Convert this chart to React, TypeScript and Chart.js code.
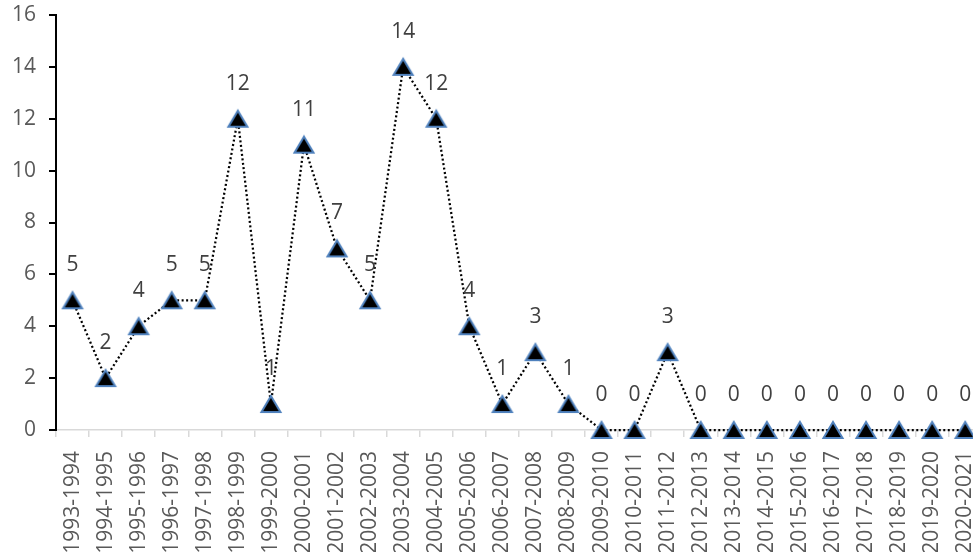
import React, { useEffect, useRef } from "react";
import { Chart, registerables } from "chart.js";

Chart.register(...registerables);

const categories: string[] = [
  "1993-1994", "1994-1995", "1995-1996", "1996-1997", "1997-1998", "1998-1999", "1999-2000",
  "2000-2001", "2001-2002", "2002-2003", "2003-2004", "2004-2005", "2005-2006", "2006-2007",
  "2007-2008", "2008-2009", "2009-2010", "2010-2011", "2011-2012", "2012-2013", "2013-2014",
  "2014-2015", "2015-2016", "2016-2017", "2017-2018", "2018-2019", "2019-2020", "2020-2021",
];
const values: number[] = [5, 2, 4, 5, 5, 12, 1, 11, 7, 5, 14, 12, 4, 1, 3, 1, 0, 0, 3, 0, 0, 0, 0, 0, 0, 0, 0, 0];
const yTicks: number[] = [0, 2, 4, 6, 8, 10, 12, 14, 16];

const FONT = "'Open Sans', sans-serif";

function makeTriangle(): HTMLCanvasElement {
  const c = document.createElement("canvas");
  c.width = 24;
  c.height = 24;
  const ctx = c.getContext("2d")!;
  ctx.beginPath();
  ctx.moveTo(12, 4);
  ctx.lineTo(21.5, 20);
  ctx.lineTo(2.5, 20);
  ctx.closePath();
  ctx.fillStyle = "#000000";
  ctx.fill();
  ctx.lineWidth = 2;
  ctx.lineJoin = "miter";
  ctx.strokeStyle = "#4F81BD";
  ctx.stroke();
  return c;
}

const labelPlugin = {
  id: "valueLabels",
  afterDatasetsDraw(chart: any) {
    const ctx = chart.ctx;
    const meta = chart.getDatasetMeta(0);
    ctx.save();
    ctx.font = `21px ${FONT}`;
    ctx.fillStyle = "#404040";
    ctx.textAlign = "center";
    ctx.textBaseline = "middle";
    meta.data.forEach((pt: any, i: number) => {
      ctx.fillText(String(values[i]), pt.x, pt.y - 35);
    });
    ctx.restore();
  },
};

export default function App() {
  const ref = useRef<HTMLCanvasElement>(null);
  useEffect(() => {
    document.body.style.margin = "0";
    document.body.style.overflow = "hidden";
    const tri = makeTriangle();
    const chart = new Chart(ref.current!, {
      type: "line",
      data: {
        labels: categories,
        datasets: [
          {
            data: values,
            borderColor: "#000000",
            borderWidth: 2.25,
            borderDash: [2, 2.5],
            pointStyle: tri as any,
            pointRadius: 10,
            tension: 0,
            fill: false,
            clip: false as any,
          },
        ],
      },
      options: {
        animation: false,
        responsive: false,
        layout: { padding: { top: 15, right: 3, left: 0, bottom: 0 } },
        plugins: { legend: { display: false }, tooltip: { enabled: false } },
        scales: {
          x: {
            offset: true,
            grid: {
              drawOnChartArea: false,
              drawTicks: true,
              offset: true,
              tickLength: 7,
              color: "#d9d9d9",
              lineWidth: 1.5,
            },
            border: { color: "#d9d9d9", width: 1.5 },
            ticks: {
              autoSkip: false,
              maxRotation: 90,
              minRotation: 90,
              padding: 14,
              color: "#595959",
              font: { family: FONT, size: 21 },
            },
            afterFit(scale: any) {
              scale.height = 560 - 430;
              scale.paddingLeft = 0;
              scale.paddingRight = 0;
            },
          },
          y: {
            min: 0,
            max: 16,
            afterBuildTicks(scale: any) {
              scale.ticks = yTicks.map((v) => ({ value: v }));
            },
            grid: {
              drawOnChartArea: false,
              drawTicks: true,
              tickLength: 7,
              color: "#000000",
              lineWidth: 2,
            },
            border: { color: "#000000", width: 2 },
            ticks: {
              padding: 13,
              color: "#595959",
              font: { family: FONT, size: 21 },
            },
            afterFit(scale: any) {
              scale.width = 56;
              scale.paddingTop = 0;
              scale.paddingBottom = 0;
            },
          },
        },
      },
      plugins: [labelPlugin],
    });
    return () => chart.destroy();
  }, []);
  return (
    <div style={{ position: "fixed", left: 0, top: 0, width: 973, height: 552, overflow: "hidden", background: "#fff" }}>
      <canvas ref={ref} width={994} height={560} style={{ display: "block" }} />
    </div>
  );
}
